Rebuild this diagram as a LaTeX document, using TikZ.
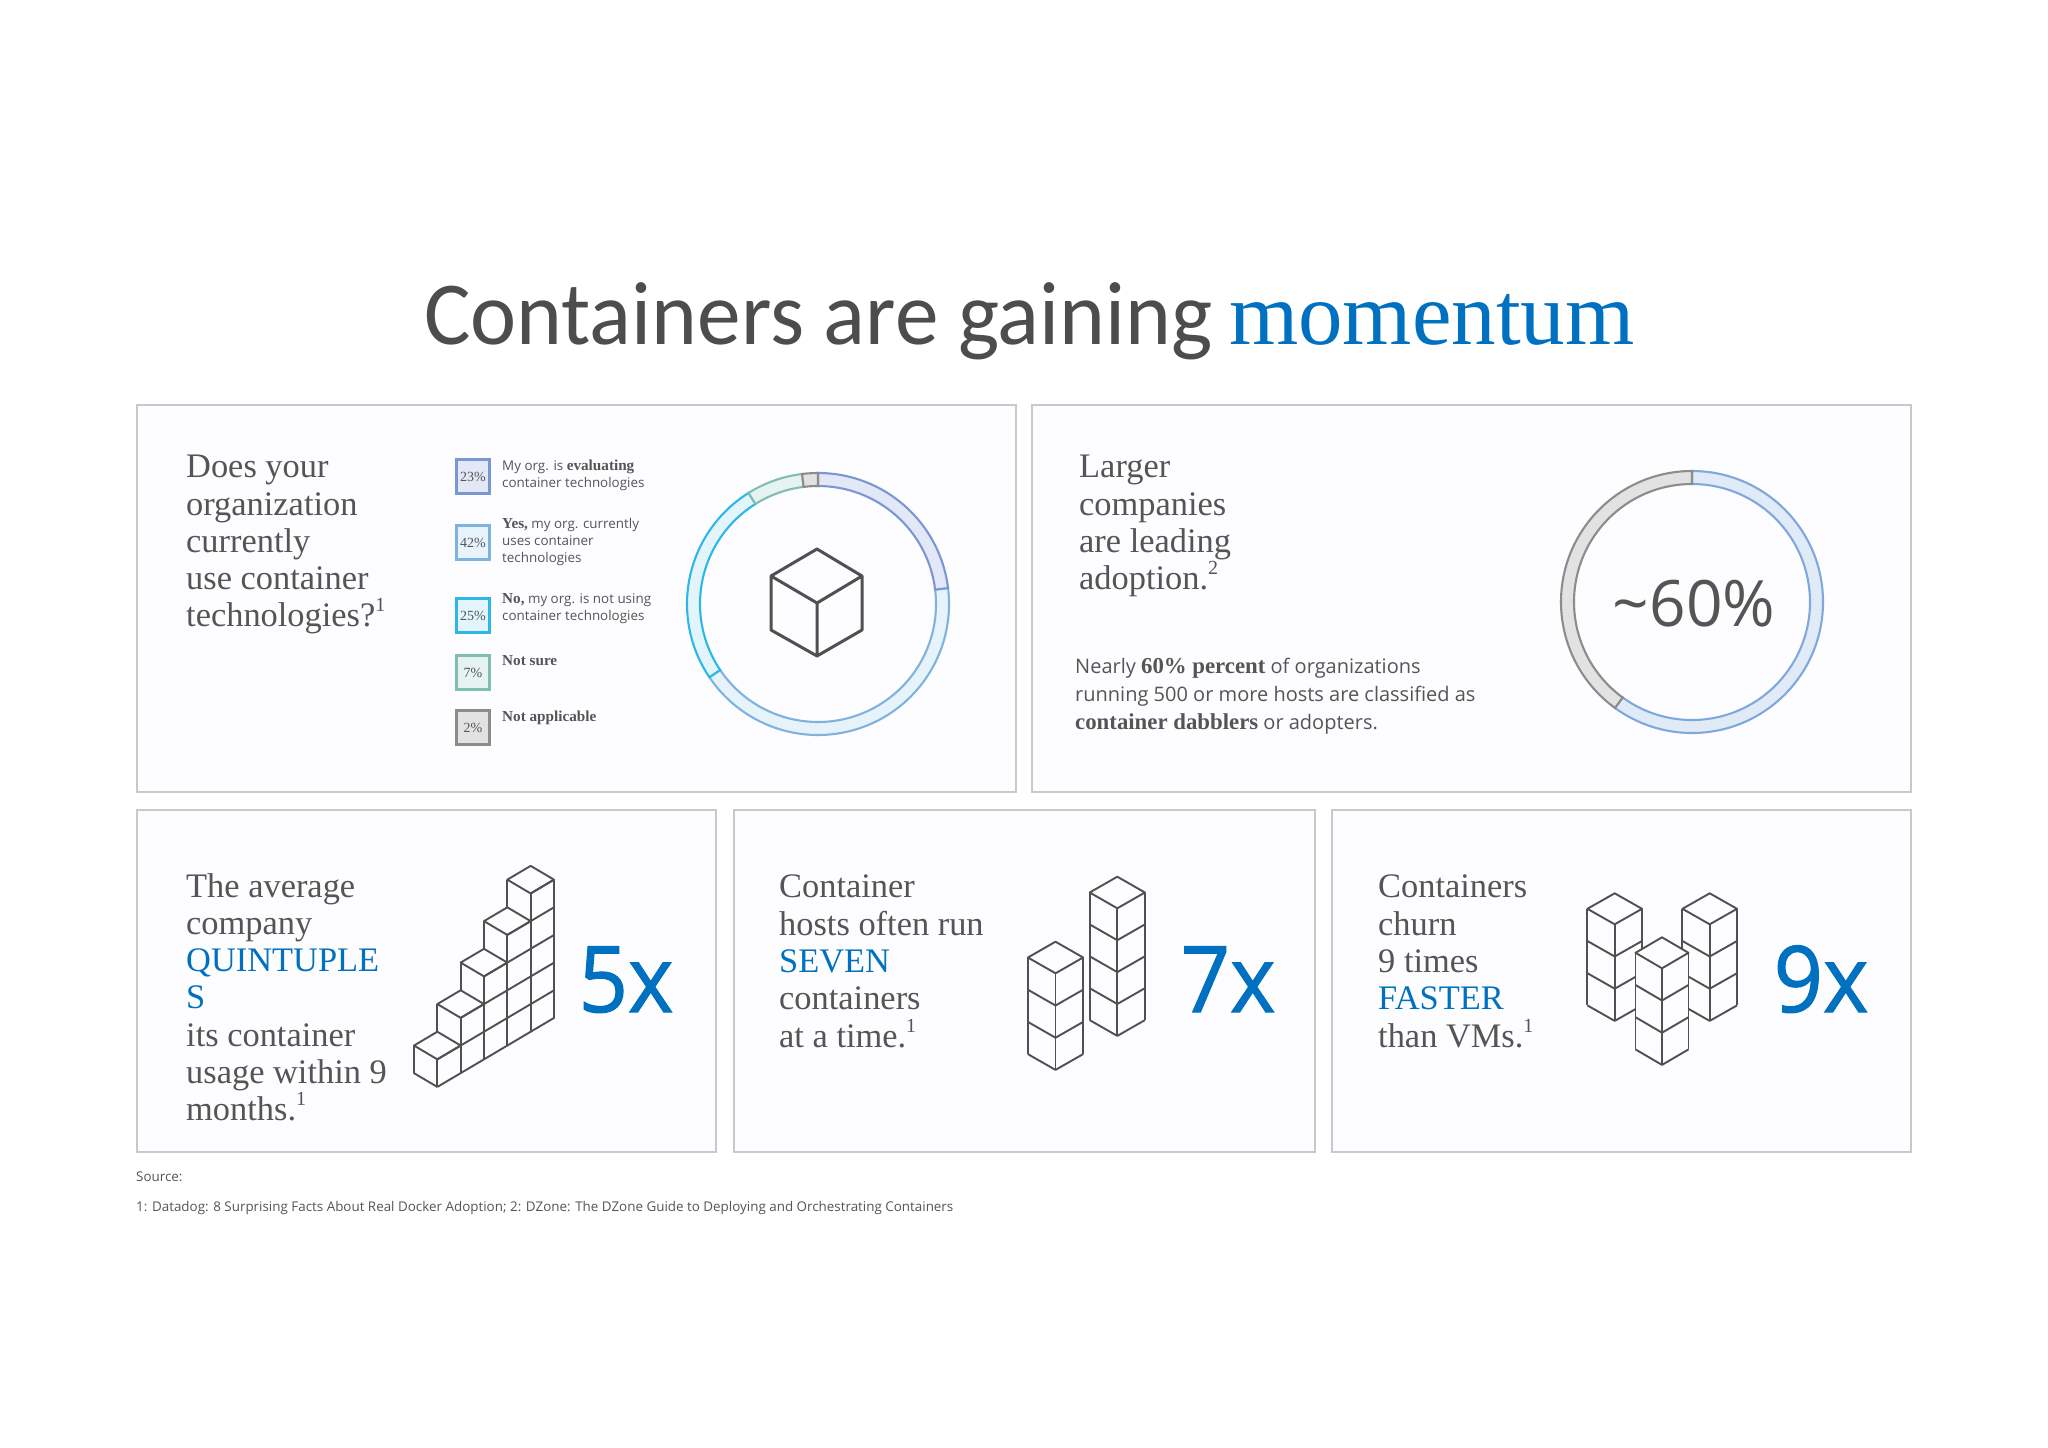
\documentclass[tikz,border=0pt]{standalone}
\usepackage{fontspec}
\setmainfont{Liberation Serif}
\newfontfamily\carl[FakeStretch=0.97]{Carlito}
\newfontfamily\opn{Open Sans}
\newfontfamily\opnbig[FakeStretch=0.94,FakeBold=1.2]{Open Sans}
\newfontfamily\srf{Liberation Serif}
\definecolor{txt}{HTML}{555555}
\definecolor{title}{HTML}{4D4D4D}
\definecolor{accent}{HTML}{0070C0}
\definecolor{frame}{HTML}{C9C9CC}
\definecolor{panelbg}{HTML}{FDFCFE}
\definecolor{ico}{HTML}{505050}
\definecolor{legA}{HTML}{7A97D4}
\definecolor{fillA}{HTML}{E3E8F6}
\definecolor{legB}{HTML}{7FB3DE}
\definecolor{fillB}{HTML}{E6F3FB}
\definecolor{legC}{HTML}{2DB7E8}
\definecolor{fillC}{HTML}{E3F5FC}
\definecolor{legD}{HTML}{80BFAB}
\definecolor{fillD}{HTML}{E6F3F0}
\definecolor{legE}{HTML}{8C8C8C}
\definecolor{fillE}{HTML}{E2E2E2}
\definecolor{ringB}{HTML}{7FA8DC}
\definecolor{ringBf}{HTML}{E1EAF7}
\newcommand{\lbf}[1]{{\srf\bfseries\fontsize{15.2}{17}\selectfont #1}}
\newcommand{\pbf}[1]{{\srf\bfseries\fontsize{22.8}{28}\selectfont #1}}
\newcommand{\blu}[1]{\textcolor{accent}{#1}}
\newcommand{\sups}[1]{\raisebox{.44em}{\fontsize{20}{20}\selectfont #1}}
\newcommand{\ringseg}[7]{%
  \draw[line width=2.1pt,draw=#1,fill=#2] (90-#3:#6 pt) arc[start angle=90-#3,end angle=90-#4,radius=#6 pt] -- (90-#4:#5 pt) arc[start angle=90-#4,end angle=90-#3,radius=#5 pt] -- cycle;}
\newcommand{\stackcol}[7]{%
  \begin{scope}[shift={(#1,#2)}]
    \path[fill=panelbg] (0,-2*#5) -- (#4,-#5) -- (#4,{-#5+#3*#6}) -- (0,{#3*#6}) -- (-#4,{-#5+#3*#6}) -- (-#4,-#5) -- cycle;
    \draw[icoline] (0,-2*#5) -- (#4,-#5) -- (0,0) -- (-#4,-#5) -- cycle;
    \draw[icoline] (-#4,-#5) -- (-#4,{-#5+#3*#6}) (0,0) -- (0,{#3*#6}) (#4,-#5) -- (#4,{-#5+#3*#6});
    \foreach \i in {1,...,#3} \draw[icoline] (-#4,{-#5+\i*#6}) -- (0,{\i*#6}) -- (#4,{-#5+\i*#6});
  \end{scope}}
\tikzset{
  panel/.style={draw=frame,fill=panelbg,line width=2.8pt},
  body/.style={anchor=north west,inner sep=0pt,align=left,text=txt,font=\fontsize{34.4}{37.3}\selectfont},
  legbox/.style={minimum width=33pt,minimum height=34pt,inner sep=0pt,line width=2.8pt,text=txt,font=\fontsize{14}{16}\selectfont},
  legtxt/.style={anchor=north west,inner sep=0pt,align=left,text=txt,font=\opn\fontsize{13.4}{17}\selectfont},
  big/.style={anchor=base,inner sep=0pt,text=accent,font=\opnbig\fontsize{92}{92}\selectfont},
  note/.style={anchor=base west,inner sep=0pt,text=txt,font=\opn\fontsize{13.4}{15}\selectfont},
  icoline/.style={draw=ico,line width=1.9pt,line join=round},
}
\begin{document}
\begin{tikzpicture}[x=1pt,y=-1pt]
\useasboundingbox (0,0) rectangle (2048,1448);
\fill[white] (0,0) rectangle (2048,1448);
% title
\node[anchor=base west,inner sep=0pt,text=title,font=\carl\fontsize{90}{90}\selectfont] (t1) at (424,344) {Containers are gaining};
\node[anchor=base west,inner sep=0pt,text=accent,font=\fontsize{89}{89}\selectfont] (t2) at (1229,344) {momentum};
% panels
\draw[panel] (137,405) rectangle (1016,792);
\draw[panel] (1032,405) rectangle (1911,792);
\draw[panel] (137,810) rectangle (716,1152);
\draw[panel] (734,810) rectangle (1315,1152);
\draw[panel] (1332,810) rectangle (1911,1152);
% panel A
\node[body] (qa) at (186,455) {Does your\\organization\\currently\\use container\\technologies?\sups{1}};
\node[legbox,draw=legA,fill=fillA] (l1) at (473,476.5) {23\%};
\node[legbox,draw=legB,fill=fillB] (l2) at (473,542.5) {42\%};
\node[legbox,draw=legC,fill=fillC] (l3) at (473,615.5) {25\%};
\node[legbox,draw=legD,fill=fillD] (l4) at (473,672.5) {7\%};
\node[legbox,draw=legE,fill=fillE] (l5) at (473,727.5) {2\%};
\node[legtxt] (lt1) at (502,459.5) {My org. is \lbf{evaluating}\\container technologies};
\node[legtxt] (lt2) at (502,518.5) {\lbf{Yes,} my org. currently\\uses container\\technologies};
\node[legtxt] (lt3) at (502,593.5) {\lbf{No,} my org. is not using\\container technologies};
\node[legtxt] (lt4) at (502,655) {\lbf{Not sure}};
\node[legtxt] (lt5) at (502,711) {\lbf{Not applicable}};
\begin{scope}[shift={(818,604)},x=1pt,y=1pt]
\ringseg{legB}{fillB}{83}{236}{118}{131}{}
\ringseg{legC}{fillC}{236}{328}{118}{131}{}
\ringseg{legD}{fillD}{328}{353}{118}{131}{}
\ringseg{legA}{fillA}{0}{83}{118}{131}{}
\ringseg{legE}{fillE}{353}{360}{118}{131}{}
\end{scope}
\draw[draw=ico,line width=3pt,line join=round] (817,549) -- (862,576) -- (862,630) -- (817,656) -- (771,630) -- (771,576) -- cycle (771,576) -- (817,603) -- (862,576) (817,603) -- (817,656);
% panel B
\node[body] (qb) at (1079,455) {Larger\\companies\\are leading\\adoption.\sups{2}};
\node[anchor=north west,inner sep=0pt,align=left,text=txt,font=\opn\fontsize{20}{28}\selectfont] (pb) at (1075,658) {Nearly \pbf{60\% percent} of organizations\\running 500 or more hosts are classified as\\\pbf{container dabblers} or adopters.};
\begin{scope}[shift={(1692,602)},x=1pt,y=1pt]
\ringseg{ringB}{ringBf}{0}{216}{118}{131}{}
\ringseg{legE}{fillE}{216}{360}{118}{131}{}
\end{scope}
\node[anchor=base,inner sep=0pt,text=txt,font=\opn\fontsize{64}{64}\selectfont] (sixty) at (1694,626) {\textasciitilde 60\%};
% panel C
\node[body] (qc) at (186,873) {The average\\company\\\blu{QUINTUPLE}\\\blu{S}\\its container\\usage within 9\\months.\sups{1}};
\foreach \k in {0,...,4} {
  \pgfmathsetmacro{\fx}{437.33+23.33*\k}
  \pgfmathsetmacro{\fy}{1059.33-41.47*\k}
  \pgfmathsetmacro{\bot}{1059.33+27.6-13.8*\k}
  \pgfmathsetmacro{\ey}{\fy-13.8*(5-\k)}
  \draw[icoline] (\fx,\fy-27.6) -- (\fx+23.33,\fy-13.8) -- (\fx,\fy) -- (\fx-23.33,\fy-13.8) -- cycle;
  \draw[icoline] (\fx-23.33,\fy-13.8) -- (\fx-23.33,\fy+13.8);
  \draw[icoline] (\fx,\fy) -- (\fx,\bot);
  \draw[icoline] (\fx,\fy) -- (554,\ey);
}
\draw[icoline] (437.33,1086.93) -- (554,1017.93) -- (554,879.65);
\draw[icoline] (414,1045.53) -- (414,1073.13) -- (437.33,1086.93);
\node[big] (five) at (626,1012) {5x};
% panel D
\node[body] (qd) at (779,875) {Container\\hosts often run\\\blu{SEVEN}\\containers\\at a time.\sups{1}};
\stackcol{1055.5}{973.3}{3}{27.6}{15.8}{32.2}{}
\stackcol{1117.3}{908.3}{4}{27.6}{15.8}{31.9}{}
\node[big] (seven) at (1228,1012) {7x};
% panel E
\node[body] (qe) at (1378,875) {Containers\\churn\\9 times\\\blu{FASTER}\\than VMs.\sups{1}};
\stackcol{1614.7}{924.3}{3}{27.3}{15.5}{32.2}{}
\stackcol{1709.7}{924.3}{3}{27.3}{15.5}{32.2}{}
\stackcol{1662}{968.3}{3}{26.5}{15.5}{32.2}{}
\node[big] (nine) at (1821,1012) {9x};
% notes
\node[note] (n1) at (136,1181) {Source:};
\node[note] (n2) at (136,1211) {1: Datadog: 8 Surprising Facts About Real Docker Adoption; 2: DZone: The DZone Guide to Deploying and Orchestrating Containers};
\end{tikzpicture}
\end{document}
